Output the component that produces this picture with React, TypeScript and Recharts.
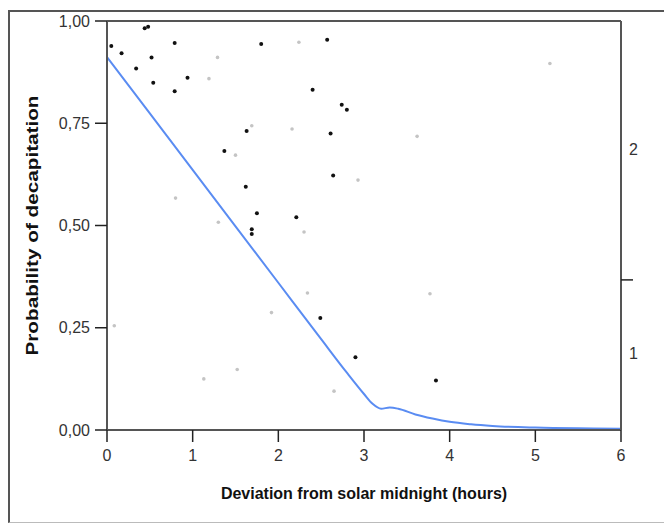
import React from "react";
import { ComposedChart, Scatter, Line, XAxis, YAxis, ReferenceLine } from "recharts";

// Observed points: dark (black) and light (gray) groups
const darkX = [0.05, 0.17, 0.34, 0.44, 0.48, 0.52, 0.54, 0.79, 0.79, 0.94, 1.8, 2.57, 2.4, 2.74, 2.8, 1.63, 2.61, 1.37, 2.64, 1.62, 1.75, 2.21, 1.69, 1.69, 2.49, 2.9, 3.84];
const darkY = [0.939, 0.921, 0.884, 0.982, 0.986, 0.911, 0.849, 0.946, 0.828, 0.861, 0.944, 0.954, 0.832, 0.795, 0.783, 0.731, 0.725, 0.682, 0.622, 0.595, 0.53, 0.52, 0.491, 0.479, 0.274, 0.178, 0.121];

const lightX = [1.29, 1.19, 2.24, 1.69, 2.16, 5.17, 3.62, 1.5, 2.93, 0.8, 1.3, 2.3, 0.085, 1.13, 1.52, 1.92, 2.34, 2.65, 3.77];
const lightY = [0.911, 0.859, 0.948, 0.744, 0.736, 0.896, 0.718, 0.672, 0.611, 0.567, 0.508, 0.484, 0.255, 0.125, 0.148, 0.287, 0.335, 0.095, 0.333];

// Fitted curve
const curveX = [0, 0.5, 1, 1.5, 2, 2.5, 2.8, 3.0, 3.1, 3.2, 3.3, 3.4, 3.6, 3.8, 4.0, 4.25, 4.5, 5.0, 5.5, 6.0];
const curveY = [0.912, 0.774, 0.636, 0.498, 0.36, 0.222, 0.14, 0.088, 0.064, 0.052, 0.055, 0.052, 0.038, 0.028, 0.02, 0.014, 0.01, 0.006, 0.004, 0.003];

const xTicks = [0, 1, 2, 3, 4, 5, 6];
const yTicks = [0, 0.25, 0.5, 0.75, 1];
const rightTickValues = [0.188, 0.367, 0.685];
const rightTickLabels = ["1", "", "2"];

const darkData = darkX.map((x, i) => ({ x, y: darkY[i] }));
const lightData = lightX.map((x, i) => ({ x, y: lightY[i] }));
const curveData = curveX.map((x, i) => ({ x, y: curveY[i] }));
const rightAnchor = [{ x: 0, r: 0 }, { x: 6, r: 1 }];

const FONT = "'Liberation Sans', Arial, Helvetica, sans-serif";
const AXIS = "#555";

const fmt = (v: number) => v.toFixed(2).replace(".", ",");

const DarkDot = (p: any) => <circle cx={p.cx} cy={p.cy} r={2} fill="#111" />;
const LightDot = (p: any) => <circle cx={p.cx} cy={p.cy} r={1.8} fill="#c4c4c4" />;
const NoDot = () => <g />;

const renderRightTick = (p: any) => {
  const v = p.payload && p.payload.value;
  let idx = -1;
  rightTickValues.forEach((t, i) => {
    if (Math.abs(t - v) < 1e-6) idx = i;
  });
  const lab = idx >= 0 ? rightTickLabels[idx] : "";
  if (!lab) {
    return <line key={`rt${idx}`} x1={p.x} x2={p.x + 12} y1={p.y} y2={p.y} stroke="#222" strokeWidth={1.5} />;
  }
  return (
    <text key={`rt${idx}`} x={p.x + 8} y={p.y} dy="0.35em" fontSize={16} fontFamily={FONT} fill="#333">
      {lab}
    </text>
  );
};

export default function App() {
  return (
    <div style={{ position: "relative", width: 664, height: 525, overflow: "hidden", background: "#fff" }}>
      <style>{`body{margin:0;overflow:hidden;background:#fff}`}</style>
      <div
        style={{
          position: "absolute",
          left: 8,
          top: 10,
          width: 680,
          height: 510,
          borderTop: "2px solid #555",
          borderLeft: "2px solid #555",
          borderBottom: "1px solid #bbb",
        }}
      />
      <div style={{ position: "absolute", left: 0, top: 0 }}>
        <ComposedChart width={664} height={525} margin={{ top: 21, right: 13, bottom: 65, left: 47 }}>
          <XAxis
            type="number"
            dataKey="x"
            domain={[0, 6]}
            ticks={xTicks}
            allowDataOverflow
            stroke={AXIS}
            strokeWidth={2}
            tickSize={12}
            tickMargin={8}
            tick={{ fill: "#333", fontSize: 16, fontFamily: FONT }}
            tickLine={{ stroke: "#222", strokeWidth: 1.5 }}
            height={30}
            label={{
              value: "Deviation from solar midnight (hours)",
              position: "bottom",
              offset: 28,
              style: { fontFamily: FONT, fontWeight: "bold", fontSize: 16, fill: "#111" },
            }}
          />
          <YAxis
            yAxisId="left"
            type="number"
            dataKey="y"
            domain={[0, 1]}
            ticks={yTicks}
            tickFormatter={fmt}
            stroke={AXIS}
            strokeWidth={2}
            tickSize={12}
            tickMargin={5}
            width={60}
            tick={{ fill: "#333", fontSize: 16, fontFamily: FONT }}
            tickLine={{ stroke: "#222", strokeWidth: 1.5 }}
            label={{
              value: "Probability of decapitation",
              position: "left",
              offset: 0,
              content: (props: any) => {
                const vb = props.viewBox;
                const cy = vb.y + vb.height / 2;
                return (
                  <text
                    x={32}
                    y={cy}
                    transform={`rotate(-90, 32, ${cy})`}
                    textAnchor="middle"
                    dominantBaseline="central"
                    fontFamily={FONT}
                    fontWeight="bold"
                    fontSize={16}
                    textLength={260}
                    lengthAdjust="spacingAndGlyphs"
                    fill="#111"
                  >
                    Probability of decapitation
                  </text>
                );
              },
            }}
          />
          <YAxis
            yAxisId="right"
            orientation="right"
            type="number"
            dataKey="r"
            domain={[0, 1]}
            ticks={rightTickValues}
            interval={0}
            stroke={AXIS}
            strokeWidth={2}
            tickLine={false}
            tickSize={0}
            tickMargin={0}
            width={30}
            tick={renderRightTick}
          />
          <ReferenceLine yAxisId="left" y={1} stroke={AXIS} strokeWidth={2} />
          <Scatter yAxisId="right" data={rightAnchor} dataKey="r" shape={<NoDot />} isAnimationActive={false} />
          <Scatter yAxisId="left" data={lightData} dataKey="y" shape={<LightDot />} isAnimationActive={false} />
          <Scatter yAxisId="left" data={darkData} dataKey="y" shape={<DarkDot />} isAnimationActive={false} />
          <Line
            yAxisId="left"
            data={curveData}
            dataKey="y"
            type="monotone"
            stroke="#5a8cf2"
            strokeWidth={2}
            dot={false}
            activeDot={false}
            isAnimationActive={false}
          />
        </ComposedChart>
      </div>
    </div>
  );
}
